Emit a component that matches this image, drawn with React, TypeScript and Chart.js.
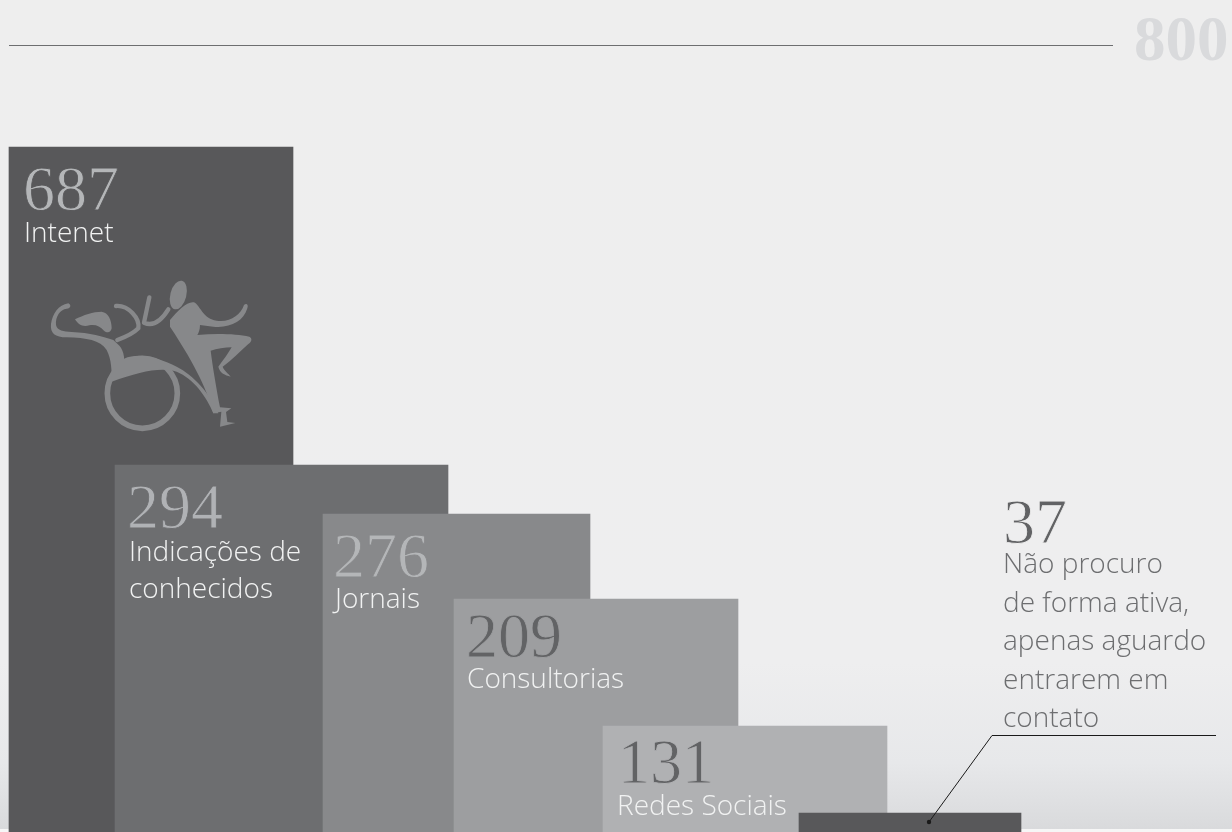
import React, { useEffect, useRef } from "react";
import { Chart, registerables, LinearScale } from "chart.js";

// Survey answers: where people look for job openings.
const categories = [
  ["Intenet"],
  ["Indicações de", "conhecidos"],
  ["Jornais"],
  ["Consultorias"],
  ["Redes Sociais"],
  ["Não procuro", "de forma ativa,", "apenas aguardo", "entrarem em", "contato"],
];
const responses = [687, 294, 276, 209, 131, 37];
const axisMax = 800;

// Bar spans in canvas pixels, kept apart from the values.
const barLefts = [9, 115, 323, 454, 603, 799];
const barRights = [293, 448, 590, 738, 887, 1021];
const barColors = ["#58585a", "#6d6e70", "#88898b", "#9d9ea0", "#b0b1b3", "#58585a"];
const valueColors = ["#b4b6b8", "#b0b2b5", "#b4b6b8", "#626365", "#626365", "#626365"];
const valueHalos = ["#58585a", "#6d6e70", "#88898b", "#9d9ea0", "#b0b1b3", "#eeeeee"];
const captionColors = ["#f1f2f2", "#f1f2f2", "#f1f2f2", "#f1f2f2", "#f1f2f2", "#6d6e70"];

// Text anchors relative to each bar's top-left corner: value x, value baseline, caption x, caption baseline.
const textAnchors = [
  [14, 63, 15, 95],
  [12, 63, 14, 96],
  [10, 63, 12, 94],
  [12, 58, 13, 89],
  [15, 57, 14, 89],
  [204, -270, 204, -240],
];
const captionLineHeights = [37, 37, 37, 37, 37, 38.5];

// The axis is drawn to a hand-set profile rather than a straight line.
const axisValues = [0, 37, 131, 209, 276, 294, 687, 800];
const axisFractions = [0, 0.02414, 0.13469, 0.29606, 0.40407, 0.46633, 0.87039, 1];

class SteppedScale extends LinearScale {
  static id = "stepped";
  static defaults = {};
  getPixelForValue(value: number) {
    let i = 1;
    while (i < axisValues.length - 1 && value > axisValues[i]) i++;
    const t = (value - axisValues[i - 1]) / (axisValues[i] - axisValues[i - 1]);
    const f = axisFractions[i - 1] + t * (axisFractions[i] - axisFractions[i - 1]);
    return this.bottom - f * (this.bottom - this.top);
  }
  getValueForPixel(pixel: number) {
    const f = (this.bottom - pixel) / (this.bottom - this.top);
    let i = 1;
    while (i < axisFractions.length - 1 && f > axisFractions[i]) i++;
    const t = (f - axisFractions[i - 1]) / (axisFractions[i] - axisFractions[i - 1]);
    return axisValues[i - 1] + t * (axisValues[i] - axisValues[i - 1]);
  }
}

Chart.register(...registerables, SteppedScale);

const backdrop = {
  id: "backdrop",
  beforeDraw(chart: any) {
    const { ctx, width, height } = chart;
    const g = ctx.createLinearGradient(0, 0, 0, 829);
    g.addColorStop(0, "#eeeeee");
    g.addColorStop(0.8, "#eeeeef");
    g.addColorStop(0.92, "#e7e8ea");
    g.addColorStop(1, "#d9dadc");
    ctx.save();
    ctx.fillStyle = "#f6f6f6";
    ctx.fillRect(0, 0, width, height);
    ctx.fillStyle = g;
    ctx.fillRect(0, 0, width, 829);
    ctx.restore();
  },
};

// Emblem on the tallest bar: two dancers, one of them on a wheelchair.
function drawEmblem(ctx: CanvasRenderingContext2D, barLeft: number, barTop: number) {
  ctx.save();
  ctx.translate(barLeft - 9, barTop - 7);
  ctx.scale(1 / 3, 1 / 3);
  ctx.fillStyle = "#87888a";
  ctx.strokeStyle = "#87888a";
  ctx.lineCap = "round";
  ctx.lineJoin = "round";

  // wheel
  ctx.lineWidth = 17;
  ctx.beginPath();
  ctx.arc(427, 760, 105, 0, Math.PI * 2);
  ctx.stroke();

  // right dancer's head
  ctx.beginPath();
  ctx.ellipse(535, 465, 24, 44, 0.25, 0, Math.PI * 2);
  ctx.fill();

  // left dancer's head
  ctx.fill(new Path2D("M225 538 C250 525 280 515 305 515 C325 518 335 540 335 565 C332 578 322 580 312 572 C300 558 285 552 268 556 C250 562 235 555 225 538 Z"));

  // left dancer: raised arm, shoulders, torso, long tail sweeping over the wheel
  ctx.fill(new Path2D("M205 490 C215 495 212 506 200 506 C180 508 166 530 168 555 C172 572 190 574 215 576 C270 578 310 590 340 600 C352 612 368 620 372 650 C372 652 372 655 372 656 C420 635 480 655 530 680 C580 705 630 760 655 820 L640 820 C620 770 580 715 530 695 C480 680 420 695 335 725 C335 690 335 660 320 630 C300 600 260 594 200 592 C165 592 150 580 153 552 C158 520 175 495 205 490 Z"));

  // left dancer's second arm
  ctx.lineWidth = 13;
  ctx.beginPath();
  ctx.moveTo(348, 498);
  ctx.bezierCurveTo(385, 495, 420, 535, 415, 565);
  ctx.quadraticCurveTo(395, 585, 352, 600);
  ctx.stroke();

  // right dancer's trailing arm
  ctx.beginPath();
  ctx.moveTo(448, 472);
  ctx.quadraticCurveTo(440, 510, 432, 548);
  ctx.quadraticCurveTo(470, 565, 505, 508);
  ctx.stroke();

  // right dancer: torso, outstretched arm, bent leg and foot
  ctx.fill(new Path2D("M510 540 C535 510 565 480 585 488 C605 505 610 535 650 542 C690 548 722 525 732 495 C740 488 746 495 742 505 C730 545 690 565 640 560 L600 555 C600 570 595 580 592 585 C650 580 710 582 748 590 C758 595 755 605 745 612 C720 635 695 660 668 680 C672 692 685 700 692 710 C675 705 660 700 655 680 C670 660 685 640 695 622 C675 622 650 626 632 632 C638 680 650 750 660 802 L694 805 L678 816 L682 846 L706 849 L660 860 L664 815 L640 820 C625 760 590 680 510 560 Z"));
  ctx.restore();
}

const marksText = {
  id: "marksText",
  afterDatasetsDraw(chart: any) {
    const { ctx } = chart;
    const firstBar = chart.getDatasetMeta(0).data[0];
    drawEmblem(ctx, firstBar.x - firstBar.width / 2, firstBar.y);

    responses.forEach((value, i) => {
      const bar = chart.getDatasetMeta(i).data[0];
      const left = bar.x - bar.width / 2;
      const [vx, vy, cx, cy] = textAnchors[i];
      ctx.save();
      ctx.textBaseline = "alphabetic";
      ctx.textAlign = "left";
      ctx.fillStyle = valueColors[i];
      ctx.font = "64px 'Liberation Serif'";
      ctx.fillText(String(value), left + vx, bar.y + vy);
      // A fine halo in the ground colour thins the numerals' strokes.
      ctx.strokeStyle = valueHalos[i];
      ctx.lineWidth = 0.8;
      ctx.strokeText(String(value), left + vx, bar.y + vy);
      ctx.fillStyle = captionColors[i];
      ctx.font = "300 28px 'Open Sans'";
      categories[i].forEach((line, k) => {
        ctx.fillText(line, left + cx, bar.y + cy + k * captionLineHeights[i]);
      });
      ctx.restore();
    });

    // Leader line from the smallest bar up to its caption.
    const last = chart.getDatasetMeta(5).data[0];
    const left = last.x - last.width / 2;
    ctx.save();
    ctx.strokeStyle = "#1a1a1a";
    ctx.fillStyle = "#1a1a1a";
    ctx.lineWidth = 1;
    ctx.beginPath();
    ctx.moveTo(left + 130, last.y + 9);
    ctx.lineTo(left + 193, last.y - 77.5);
    ctx.lineTo(left + 417, last.y - 77.5);
    ctx.stroke();
    ctx.beginPath();
    ctx.arc(left + 130, last.y + 9, 2.2, 0, Math.PI * 2);
    ctx.fill();
    ctx.restore();
  },
};

export default function App() {
  const ref = useRef<HTMLCanvasElement>(null);
  useEffect(() => {
    if (!ref.current) return;
    const chart = new Chart(ref.current, {
      type: "bar",
      data: {
        datasets: responses.map((value, i) => ({
          label: categories[i].join(" "),
          data: [{ x: (barLefts[i] + barRights[i]) / 2, y: value }],
          backgroundColor: barColors[i],
          borderWidth: 0,
          barThickness: barRights[i] - barLefts[i],
          order: responses.length - i,
          clip: false as any,
        })),
      },
      options: {
        animation: false,
        responsive: false,
        parsing: { xAxisKey: "x", yAxisKey: "y" },
        layout: { padding: { left: 9, top: 45, right: 0, bottom: 0 } },
        plugins: { legend: { display: false }, tooltip: { enabled: false } },
        datasets: { bar: { grouped: false } },
        scales: {
          x: { type: "linear", display: false, offset: false, min: 9, max: 1113, grid: { display: false } },
          y: {
            type: "stepped",
            position: "right",
            min: 0,
            max: axisMax,
            border: { display: false },
            grid: { color: "#6d6e70", lineWidth: 1, drawTicks: false },
            ticks: {
              color: "#d9dadc",
              padding: 21,
              labelOffset: -1,
              font: { family: "'Liberation Serif'", size: 63, weight: "bold" },
            },
            afterBuildTicks(scale: any) {
              scale.ticks = [{ value: axisMax }];
            },
            afterFit(scale: any) {
              scale.width = 119;
              scale.paddingTop = 0;
              scale.paddingBottom = 0;
            },
          },
        },
      } as any,
      plugins: [backdrop, marksText],
    });
    return () => chart.destroy();
  }, []);
  return (
    <div style={{ position: "fixed", left: 0, top: 0 }}>
      <canvas ref={ref} width={1232} height={832} style={{ display: "block" }} />
    </div>
  );
}
